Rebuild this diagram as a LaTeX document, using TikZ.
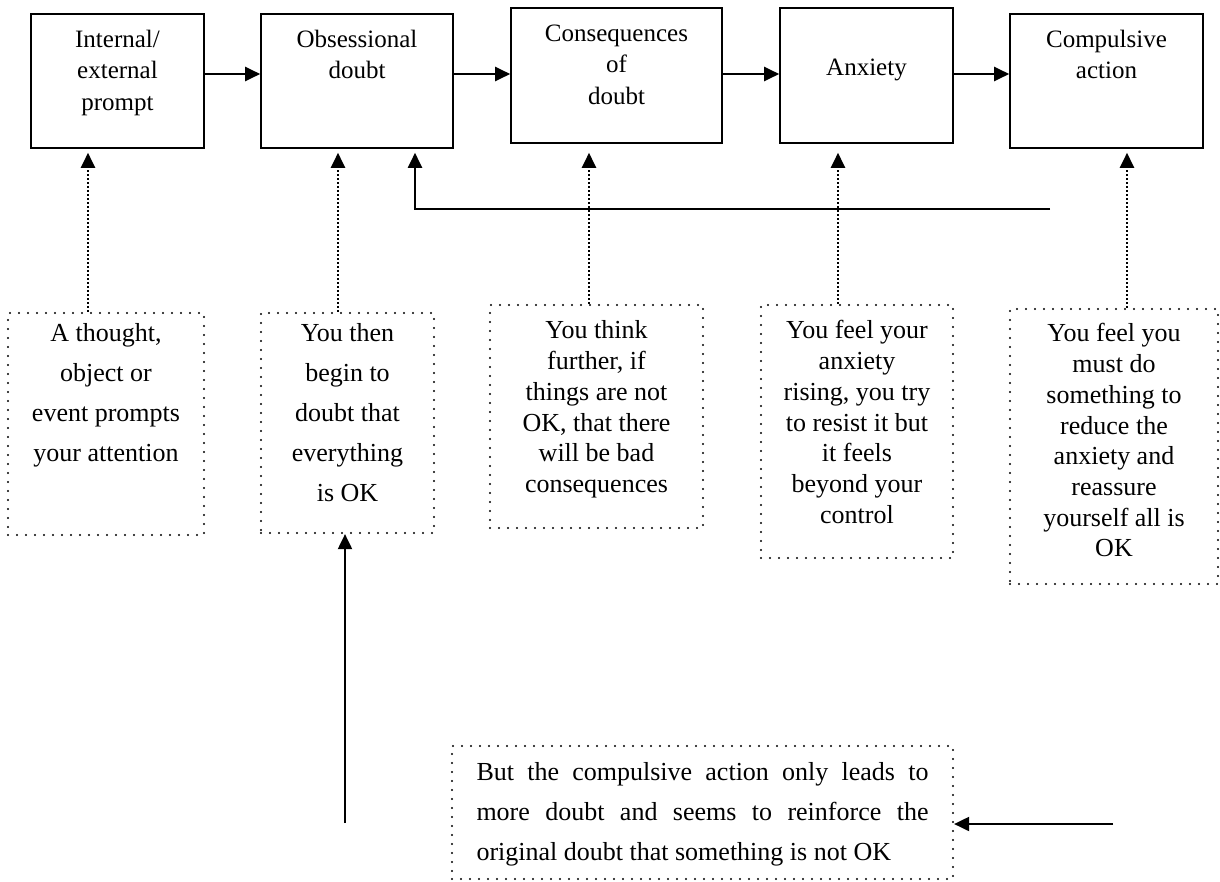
\documentclass[tikz,border=0pt]{standalone}
\usepackage{fontspec}
\setmainfont{Liberation Serif}
\usetikzlibrary{arrows.meta}

\begin{document}
\begin{tikzpicture}[x=1pt,y=-1pt]
\tikzstyle{bx}=[rectangle, draw, line width=1.6pt, inner sep=0pt]
\tikzstyle{dbx}=[rectangle, draw, line width=2.2pt, line cap=round,
                        dash pattern=on 0pt off 9pt, inner sep=0pt]
\tikzstyle{ttop}=[align=flush center, text width=200pt, inner sep=0pt, anchor=base,
                        font=\fontsize{25}{31.5}\selectfont]
\tikzstyle{tlow}=[align=flush center, text width=200pt, inner sep=0pt, anchor=base,
                        font=\fontsize{26}{30.7}\selectfont]
\tikzstyle{twide}=[tlow, font=\fontsize{26}{40}\selectfont]
\tikzstyle{arr}=[line width=2pt, -{Triangle[length=15pt,width=14pt]}]
\tikzstyle{darr}=[arr, line width=2.2pt, dash pattern=on 2pt off 2pt]
\useasboundingbox (0,0) rectangle (1220,881);
	% top row
	\node[bx, minimum width=173pt, minimum height=134pt] (b1) at (117.5,81){};
	\node[bx, minimum width=192pt, minimum height=134pt] (b2) at (357,81){};
	\node[bx, minimum width=211pt, minimum height=135pt] (b3) at (616.5,75.5){};
	\node[bx, minimum width=173pt, minimum height=135pt] (b4) at (866.5,75.5){};
	\node[bx, minimum width=193pt, minimum height=134pt] (b5) at (1106.5,81){};
	\node[ttop] (t1) at ([yshift=-34pt]b1.north){Internal/\\external\\prompt};
	\node[ttop] (t2) at ([yshift=-34pt]b2.north){Obsessional\\doubt};
	\node[ttop] (t3) at ([yshift=-34pt]b3.north){Consequences\\of\\doubt};
	\node[ttop] (t4) at ([yshift=-68pt]b4.north){Anxiety};
	\node[ttop] (t5) at ([yshift=-34pt]b5.north){Compulsive\\action};
	% dotted boxes
	\node[dbx, minimum width=196pt, minimum height=222pt] (pa) at (106,424){};
	\node[dbx, minimum width=173pt, minimum height=220pt] (pb) at (347.5,423){};
	\node[dbx, minimum width=213pt, minimum height=223pt] (pc) at (596.5,416.5){};
	\node[dbx, minimum width=192pt, minimum height=253pt] (pd) at (857,431.5){};
	\node[dbx, minimum width=208pt, minimum height=275pt] (pe) at (1114,446.5){};
	\node[dbx, minimum width=501pt, minimum height=133pt] (pf) at (702.5,812.5){};
	\node[twide] (ta) at ([yshift=-30pt]pa.north){A thought,\\object or\\event prompts\\your attention};
	\node[twide] (tb) at ([yshift=-30pt]pb.north){You then\\begin to\\doubt that\\everything\\is OK};
	\node[tlow] (tc) at ([yshift=-35pt]pc.north){You think\\further, if\\things are not\\OK, that there\\will be bad\\consequences};
	\node[tlow] (td) at ([yshift=-35pt]pd.north){You feel your\\anxiety\\rising, you try\\to resist it but\\it feels\\beyond your\\control};
	\node[tlow] (te) at ([yshift=-34pt]pe.north){You feel you\\must do\\something to\\reduce the\\anxiety and\\reassure\\yourself all is\\OK};
	\node[twide, align=justify, text width=452pt] (tf) at ([yshift=-36pt]pf.north){But the compulsive action only leads to\linebreak more doubt and seems to reinforce the\linebreak original doubt that something is not OK};
	% columns
	\coordinate (row) at (0,74);
	\coordinate (k1) at (88,0);
	\coordinate (k2) at (338,0);
	\coordinate (k3) at (589,0);
	\coordinate (k4) at (838,0);
	\coordinate (k5) at (1127,0);
	\coordinate (fbr) at (1050,209);
	\coordinate (fbl) at (415,209);
	\coordinate (up0) at (345,823);
	\coordinate (lf0) at (1113,824);
\draw[arr] (b1.east |- row)--(b2.west |- row);
\draw[arr] (b2.east |- row)--(b3.west |- row);
\draw[arr] (b3.east |- row)--(b4.west |- row);
\draw[arr] (b4.east |- row)--(b5.west |- row);
\draw[darr, shorten >=4pt] (pa.north -| k1)--(b1.south -| k1);
\draw[darr, shorten >=4pt] (pb.north -| k2)--(b2.south -| k2);
\draw[darr, shorten >=9pt] (pc.north -| k3)--(b3.south -| k3);
\draw[darr, shorten >=9pt] (pd.north -| k4)--(b4.south -| k4);
\draw[darr, shorten >=4pt] (pe.north -| k5)--(b5.south -| k5);
\draw[arr, shorten >=4pt] (fbr)--(fbl)--(b2.south -| fbl);
\draw[arr] (up0)--(pb.south -| up0);
\draw[arr] (lf0)--(pf.east |- lf0);
\end{tikzpicture}
\end{document}
